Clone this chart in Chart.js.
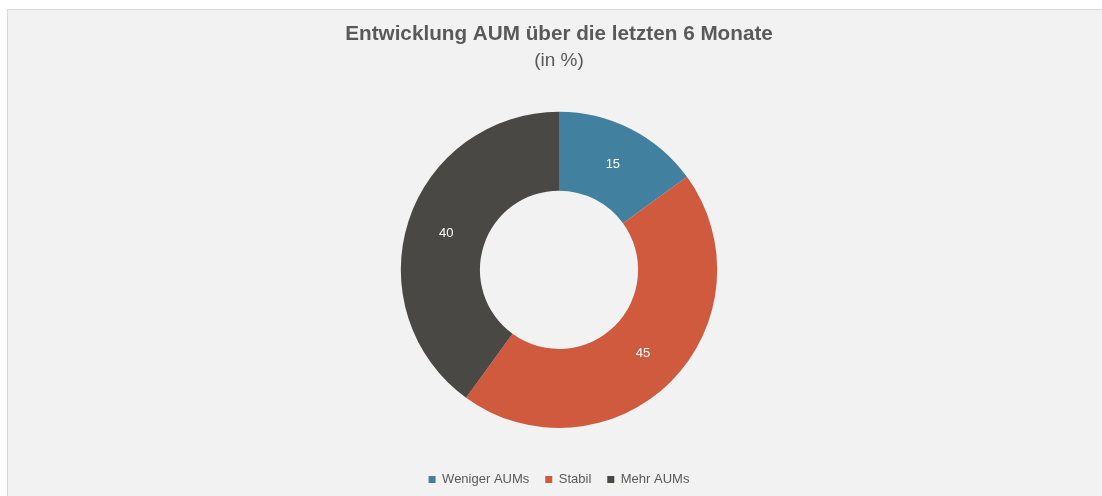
<!DOCTYPE html>
<html>
<head>
<meta charset="utf-8">
<script src="https://cdn.jsdelivr.net/npm/chart.js@4"></script>
<style>
  html, body { margin: 0; padding: 0; background: #ffffff; }
  #frame {
    position: absolute; left: 7px; top: 9px; width: 1110px; height: 500px;
    background: #f2f2f2; border: 1px solid #d9d9d9;
  }
  #wrap { position: absolute; left: 0; top: 0; width: 1102px; height: 496px; }
</style>
</head>
<body>
<div id="frame"></div>
<div id="wrap"><canvas id="aumChart"></canvas></div>
<script>
// DATA
const categories = ['Weniger AUMs', 'Stabil', 'Mehr AUMs'];
const shares = [15, 45, 40];
const sliceColors = ['#41809f', '#d05a3e', '#494845'];

const FONT = '"Liberation Sans", Arial, sans-serif';

// white value labels in the middle of each slice
const sliceLabels = {
    id: 'sliceLabels',
    afterDatasetsDraw(chart) {
        const ctx = chart.ctx;
        const meta = chart.getDatasetMeta(0);
        ctx.save();
        ctx.font = '13px ' + FONT;
        ctx.fillStyle = '#ffffff';
        ctx.textAlign = 'center';
        ctx.textBaseline = 'middle';
        meta.data.forEach((arc, i) => {
            const p = arc.tooltipPosition();
            ctx.fillText(String(shares[i]), p.x, p.y);
        });
        ctx.restore();
    }
};

new Chart(document.getElementById('aumChart'), {
    type: 'doughnut',
    data: {
        labels: categories,
        datasets: [{
            data: shares,
            backgroundColor: sliceColors,
            borderWidth: 0
        }]
    },
    plugins: [sliceLabels],
    options: {
        responsive: true,
        maintainAspectRatio: false,
        animation: false,
        cutout: '50%',
        layout: { padding: { left: 16, right: 0, top: 0, bottom: 0 } },
        plugins: {
            tooltip: { enabled: false },
            title: {
                display: true,
                text: 'Entwicklung AUM über die letzten 6 Monate',
                color: '#595959',
                font: { family: FONT, size: 20.7, weight: 'bold', lineHeight: 1.2 },
                padding: { top: 22, bottom: 2 }
            },
            subtitle: {
                display: true,
                text: '(in %)',
                color: '#595959',
                font: { family: FONT, size: 19, lineHeight: 1.2 },
                padding: { top: 1, bottom: 39 }
            },
            legend: {
                position: 'bottom',
                title: {
                    display: true,
                    text: '',
                    font: { family: FONT, size: 1, lineHeight: 1 },
                    padding: { top: 28, bottom: 0 }
                },
                labels: {
                    color: '#595959',
                    font: { family: FONT, size: 13 },
                    boxWidth: 7,
                    boxHeight: 7,
                    padding: 16
                }
            }
        }
    }
});
</script>
</body>
</html>
